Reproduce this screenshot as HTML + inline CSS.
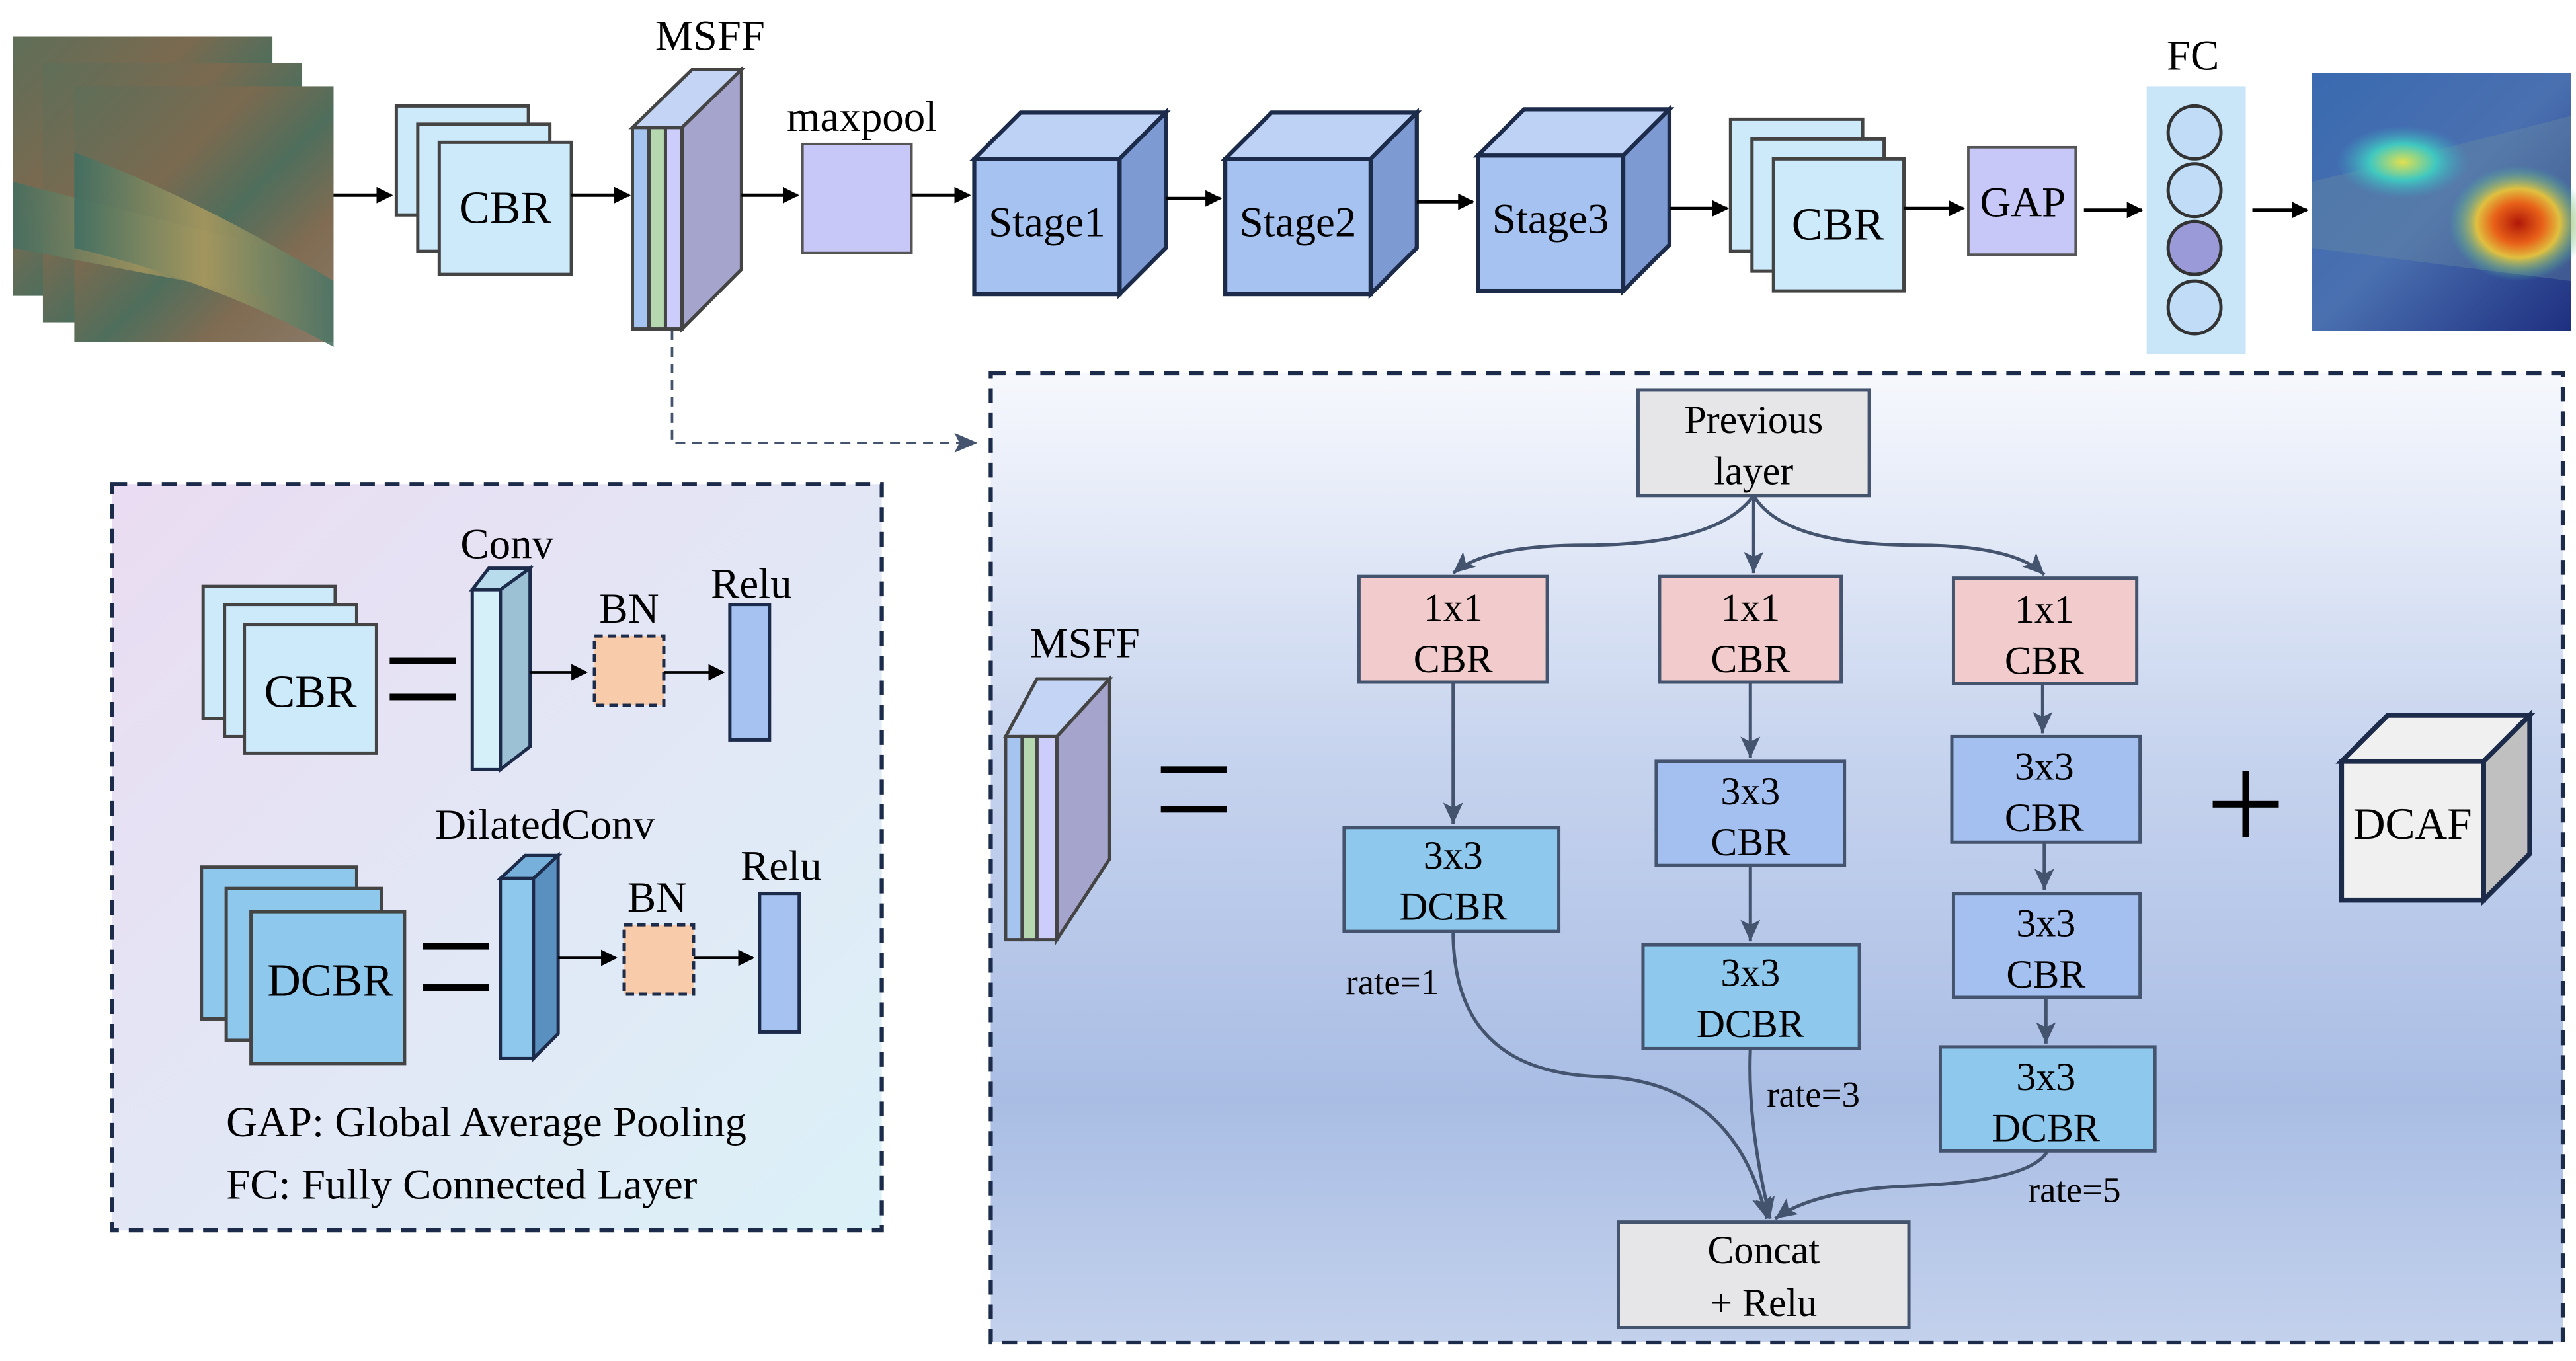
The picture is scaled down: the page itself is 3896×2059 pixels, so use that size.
<!DOCTYPE html>
<html><head><meta charset="utf-8"><style>html,body{margin:0;padding:0;background:#fff}svg{display:block}</style></head><body>
<svg width="3896" height="2059" viewBox="0 0 1560 824" xmlns="http://www.w3.org/2000/svg" font-family="'Liberation Serif', serif">
<defs>
<marker id="a" markerWidth="10" markerHeight="10" refX="9" refY="5" orient="auto" markerUnits="userSpaceOnUse"><path d="M0,0 L10,5 L0,10 z" fill="#000"/></marker>
<marker id="b" markerWidth="14" markerHeight="14" refX="13" refY="7" orient="auto" markerUnits="userSpaceOnUse"><path d="M0,1 L13,7 L0,13 L3,7 z" fill="#44546e"/></marker>
<linearGradient id="leaf" x1="0" y1="0" x2="1" y2="1"><stop offset="0" stop-color="#5f6e58"/><stop offset="0.35" stop-color="#7a6a50"/><stop offset="0.55" stop-color="#4f6e5c"/><stop offset="0.75" stop-color="#806c52"/><stop offset="1" stop-color="#8a7a68"/></linearGradient>
<linearGradient id="band" x1="0" y1="0" x2="1" y2="0"><stop offset="0" stop-color="#3f6e62"/><stop offset="0.5" stop-color="#a8985e"/><stop offset="1" stop-color="#4a7466"/></linearGradient>
<linearGradient id="heat" x1="0" y1="0" x2="1" y2="1"><stop offset="0" stop-color="#3a6ab0"/><stop offset="0.5" stop-color="#4a70b0"/><stop offset="1" stop-color="#1e2f80"/></linearGradient>
<radialGradient id="hot" cx="0.5" cy="0.5" r="0.5"><stop offset="0" stop-color="#b01808"/><stop offset="0.35" stop-color="#e86018"/><stop offset="0.6" stop-color="#e0c040"/><stop offset="1" stop-color="#40c0a0" stop-opacity="0"/></radialGradient>
<radialGradient id="cy" cx="0.5" cy="0.5" r="0.5"><stop offset="0" stop-color="#e0e050"/><stop offset="0.5" stop-color="#40c8c0"/><stop offset="1" stop-color="#40a0c0" stop-opacity="0"/></radialGradient>
<linearGradient id="lb" x1="0" y1="0" x2="1" y2="1"><stop offset="0" stop-color="#eadcf2"/><stop offset="1" stop-color="#dbf1f8"/></linearGradient>
<linearGradient id="rb" x1="0" y1="0" x2="0" y2="1"><stop offset="0" stop-color="#f6f8fd"/><stop offset="0.4" stop-color="#c6d3ee"/><stop offset="0.75" stop-color="#a9bde4"/><stop offset="1" stop-color="#c3d1ec"/></linearGradient>
</defs>
<g font-size="26">
<g>
<rect x="8" y="22" width="157" height="157" fill="url(#leaf)"/>
<rect x="26" y="38" width="157" height="157" fill="url(#leaf)"/>
<rect x="45" y="52" width="157" height="155" fill="url(#leaf)"/>
<path d="M8,110 L165,150 L165,180 L8,150z" fill="url(#band)" opacity="0.8"/>
<path d="M45,92 Q120,120 202,170 L202,210 Q130,170 45,150z" fill="url(#band)" opacity="0.9"/>
</g>
<line x1="202" y1="118" x2="237" y2="118" stroke="#000" stroke-width="2" marker-end="url(#a)"/>
<g fill="#cdeafb" stroke="#444" stroke-width="2">
<rect x="240" y="64" width="80" height="66"/><rect x="253" y="75" width="80" height="77"/><rect x="266" y="86" width="80" height="80"/></g>
<text x="306" y="135" text-anchor="middle" font-size="28">CBR</text>
<line x1="346" y1="118" x2="381" y2="118" stroke="#000" stroke-width="2" marker-end="url(#a)"/>
<g stroke="#444" stroke-width="2">
<path d="M383,77 L419,42 L449,42 L413,77z" fill="#c4d4f4"/>
<path d="M413,77 L449,42 L449,163 L413,199z" fill="#a4a4cc"/>
<rect x="383" y="77" width="10" height="122" fill="#a6c4f0"/>
<rect x="393" y="77" width="10" height="122" fill="#b6d8b0"/>
<rect x="403" y="77" width="10" height="122" fill="#cccdfa"/>
</g>
<text x="430" y="30" text-anchor="middle">MSFF</text>
<line x1="449" y1="118" x2="483" y2="118" stroke="#000" stroke-width="2" marker-end="url(#a)"/>
<rect x="486" y="87" width="66" height="66" fill="#c8c8f8" stroke="#555" stroke-width="1.5"/>
<text x="522" y="79" text-anchor="middle">maxpool</text>
<line x1="552" y1="118" x2="587" y2="118" stroke="#000" stroke-width="2" marker-end="url(#a)"/>
<g stroke="#1c2b4a" stroke-width="2.5">
<path d="M590,96 L618,68 L706,68 L678,96z" fill="#bed2f6"/><path d="M678,96 L706,68 L706,150 L678,178z" fill="#7e9ad2"/><rect x="590" y="96" width="88" height="82" fill="#a6c2f0"/>
<path d="M742,96 L770,68 L858,68 L830,96z" fill="#bed2f6"/><path d="M830,96 L858,68 L858,150 L830,178z" fill="#7e9ad2"/><rect x="742" y="96" width="88" height="82" fill="#a6c2f0"/>
<path d="M895,94 L923,66 L1011,66 L983,94z" fill="#bed2f6"/><path d="M983,94 L1011,66 L1011,148 L983,176z" fill="#7e9ad2"/><rect x="895" y="94" width="88" height="82" fill="#a6c2f0"/>
</g>
<text x="634" y="143" text-anchor="middle">Stage1</text>
<text x="786" y="143" text-anchor="middle">Stage2</text>
<text x="939" y="141" text-anchor="middle">Stage3</text>
<line x1="706" y1="120" x2="739" y2="120" stroke="#000" stroke-width="2" marker-end="url(#a)"/>
<line x1="858" y1="122" x2="892" y2="122" stroke="#000" stroke-width="2" marker-end="url(#a)"/>
<line x1="1011" y1="126" x2="1046" y2="126" stroke="#000" stroke-width="2" marker-end="url(#a)"/>
<g fill="#cdeafb" stroke="#444" stroke-width="2">
<rect x="1048" y="72" width="80" height="80"/><rect x="1061" y="84" width="80" height="80"/><rect x="1074" y="96" width="79" height="80"/></g>
<text x="1113" y="145" text-anchor="middle" font-size="28">CBR</text>
<line x1="1153" y1="126" x2="1189" y2="126" stroke="#000" stroke-width="2" marker-end="url(#a)"/>
<rect x="1192" y="89" width="65" height="65" fill="#c8c8f8" stroke="#555" stroke-width="1.5"/>
<text x="1225" y="131" text-anchor="middle">GAP</text>
<line x1="1262" y1="127" x2="1297" y2="127" stroke="#000" stroke-width="2" marker-end="url(#a)"/>
<rect x="1300" y="52" width="60" height="162" fill="#c8e6f8"/>
<text x="1328" y="42" text-anchor="middle">FC</text>
<g stroke="#333" stroke-width="2" fill="#c0dcf6"><circle cx="1329" cy="80" r="16"/><circle cx="1329" cy="115" r="16"/><circle cx="1329" cy="150" r="16" fill="#9a9ad8"/><circle cx="1329" cy="186" r="16"/></g>
<line x1="1364" y1="127" x2="1397" y2="127" stroke="#000" stroke-width="2" marker-end="url(#a)"/>
<rect x="1400" y="44" width="157" height="156" fill="url(#heat)"/>
<path d="M1400,110 L1557,70 L1557,170 L1400,150z" fill="#6e90a0" opacity="0.35"/>
<ellipse cx="1455" cy="98" rx="40" ry="22" fill="url(#cy)"/>
<ellipse cx="1525" cy="135" rx="42" ry="35" fill="url(#hot)"/>
<path d="M407,200 L407,268 L588,268" fill="none" stroke="#44546e" stroke-width="1.5" stroke-dasharray="6,4"/>
<path d="M578,262 L592,268 L578,274 L581,268z" fill="#44546e"/>
<rect x="68" y="293" width="466" height="452" fill="url(#lb)" stroke="#1c2b4a" stroke-width="2.5" stroke-dasharray="9,6"/>
<g fill="#cdeafb" stroke="#444" stroke-width="2"><rect x="123" y="355" width="80" height="80"/><rect x="136" y="366" width="80" height="80"/><rect x="148" y="378" width="80" height="78"/></g>
<text x="188" y="428" text-anchor="middle" font-size="28">CBR</text>
<rect x="236" y="398" width="40" height="4" fill="#000"/><rect x="236" y="420" width="40" height="4" fill="#000"/>
<g stroke="#1c2b4a" stroke-width="2"><path d="M286,357 L296,344 L321,344 L311,357z" fill="#b8dcec"/><path d="M303,357 L321,344 L321,452 L303,466z" fill="#9cc0d4"/><rect x="286" y="357" width="17" height="109" fill="#d6f0fa"/></g>
<text x="307" y="338" text-anchor="middle">Conv</text>
<line x1="321" y1="407" x2="355" y2="407" stroke="#000" stroke-width="1.5" marker-end="url(#a)"/>
<rect x="360" y="385" width="42" height="42" fill="#f8ccaa" stroke="#1c2b4a" stroke-width="2" stroke-dasharray="5,3"/>
<text x="381" y="377" text-anchor="middle">BN</text>
<line x1="402" y1="407" x2="438" y2="407" stroke="#000" stroke-width="1.5" marker-end="url(#a)"/>
<rect x="442" y="366" width="24" height="82" fill="#a6c2f0" stroke="#1c2b4a" stroke-width="2"/>
<text x="455" y="362" text-anchor="middle">Relu</text>
<g fill="#8ec8ec" stroke="#444" stroke-width="2"><rect x="122" y="525" width="94" height="92"/><rect x="137" y="538" width="94" height="92"/><rect x="152" y="552" width="93" height="92"/></g>
<text x="200" y="603" text-anchor="middle" font-size="28">DCBR</text>
<rect x="256" y="571" width="40" height="4" fill="#000"/><rect x="256" y="596" width="40" height="4" fill="#000"/>
<g stroke="#1c2b4a" stroke-width="2"><path d="M303,532 L318,518 L338,518 L323,532z" fill="#78b0dc"/><path d="M323,532 L338,518 L338,626 L323,641z" fill="#5a90c0"/><rect x="303" y="532" width="20" height="109" fill="#8ec8ec"/></g>
<text x="330" y="508" text-anchor="middle">DilatedConv</text>
<line x1="338" y1="580" x2="373" y2="580" stroke="#000" stroke-width="1.5" marker-end="url(#a)"/>
<rect x="378" y="560" width="42" height="42" fill="#f8ccaa" stroke="#1c2b4a" stroke-width="2" stroke-dasharray="5,3"/>
<text x="398" y="552" text-anchor="middle">BN</text>
<line x1="420" y1="580" x2="456" y2="580" stroke="#000" stroke-width="1.5" marker-end="url(#a)"/>
<rect x="460" y="541" width="24" height="84" fill="#a6c2f0" stroke="#1c2b4a" stroke-width="2"/>
<text x="473" y="533" text-anchor="middle">Relu</text>
<text x="137" y="688">GAP: Global Average Pooling</text>
<text x="137" y="726">FC: Fully Connected Layer</text>
<rect x="600" y="226" width="952" height="587" fill="url(#rb)" stroke="#1c2b4a" stroke-width="2.5" stroke-dasharray="9,6"/>
<g stroke="#444" stroke-width="2"><path d="M609,446 L628,411 L672,411 L640,446z" fill="#c4d4f4"/><path d="M640,446 L672,411 L672,520 L640,569z" fill="#a4a4cc"/><rect x="609" y="446" width="10" height="123" fill="#a6c4f0"/><rect x="619" y="446" width="9" height="123" fill="#b6d8b0"/><rect x="628" y="446" width="12" height="123" fill="#cccdfa"/></g>
<text x="657" y="398" text-anchor="middle">MSFF</text>
<rect x="703" y="464" width="40" height="4" fill="#000"/><rect x="703" y="488" width="40" height="4" fill="#000"/>
<g font-size="24" text-anchor="middle">
<rect x="992" y="236" width="140" height="64" fill="#e6e6e8" stroke="#44546e" stroke-width="2"/>
<text x="1062" y="262">Previous</text><text x="1062" y="293">layer</text>
<g fill="#f2cccc" stroke="#44546e" stroke-width="2"><rect x="823" y="349" width="114" height="64"/><rect x="1005" y="349" width="110" height="64"/><rect x="1183" y="350" width="111" height="64"/></g>
<text x="880" y="376">1x1</text><text x="880" y="407">CBR</text>
<text x="1060" y="376">1x1</text><text x="1060" y="407">CBR</text>
<text x="1238" y="377">1x1</text><text x="1238" y="408">CBR</text>
<g fill="#a4c0f0" stroke="#44546e" stroke-width="2"><rect x="1003" y="461" width="114" height="63"/><rect x="1182" y="446" width="114" height="64"/><rect x="1183" y="541" width="113" height="63"/></g>
<text x="1060" y="487">3x3</text><text x="1060" y="518">CBR</text>
<text x="1238" y="472">3x3</text><text x="1238" y="503">CBR</text>
<text x="1239" y="567">3x3</text><text x="1239" y="598">CBR</text>
<g fill="#8ec8ec" stroke="#44546e" stroke-width="2"><rect x="814" y="501" width="130" height="63"/><rect x="995" y="572" width="131" height="63"/><rect x="1175" y="634" width="130" height="63"/></g>
<text x="880" y="526">3x3</text><text x="880" y="557">DCBR</text>
<text x="1060" y="597">3x3</text><text x="1060" y="628">DCBR</text>
<text x="1239" y="660">3x3</text><text x="1239" y="691">DCBR</text>
<rect x="980" y="740" width="176" height="64" fill="#e6e6e8" stroke="#44546e" stroke-width="2"/>
<text x="1068" y="765">Concat</text><text x="1068" y="797">+ Relu</text>
</g>
<g font-size="22"><text x="815" y="602">rate=1</text><text x="1070" y="670">rate=3</text><text x="1228" y="728">rate=5</text></g>
<g fill="none" stroke="#44546e" stroke-width="2" marker-end="url(#b)">
<path d="M1062,300 Q1040,330 960,330 Q900,330 880,347"/>
<path d="M1062,300 L1062,347"/>
<path d="M1062,300 Q1080,330 1160,330 Q1220,330 1238,348"/>
<path d="M880,413 L880,499"/>
<path d="M1060,413 L1060,459"/>
<path d="M1237,414 L1237,444"/>
<path d="M1238,510 L1238,539"/>
<path d="M1239,604 L1239,632"/>
<path d="M1060,524 L1060,570"/>
<path d="M880,564 Q880,650 970,652 Q1050,655 1070,738"/>
<path d="M1060,635 Q1058,680 1072,738"/>
<path d="M1240,697 Q1230,715 1160,718 Q1100,720 1075,738"/>
</g>
<rect x="1340" y="485" width="40" height="4" fill="#000"/><rect x="1358" y="467" width="4" height="40" fill="#000"/>
<g stroke="#1c2b4a" stroke-width="3"><path d="M1418,461 L1446,433 L1532,433 L1504,461z" fill="#f0f0f0"/><path d="M1504,461 L1532,433 L1532,517 L1504,545z" fill="#c0c0c0"/><rect x="1418" y="461" width="86" height="84" fill="#f0f0f0"/></g>
<text x="1461" y="508" text-anchor="middle" font-size="27">DCAF</text>
</g>
</svg>
</body></html>
